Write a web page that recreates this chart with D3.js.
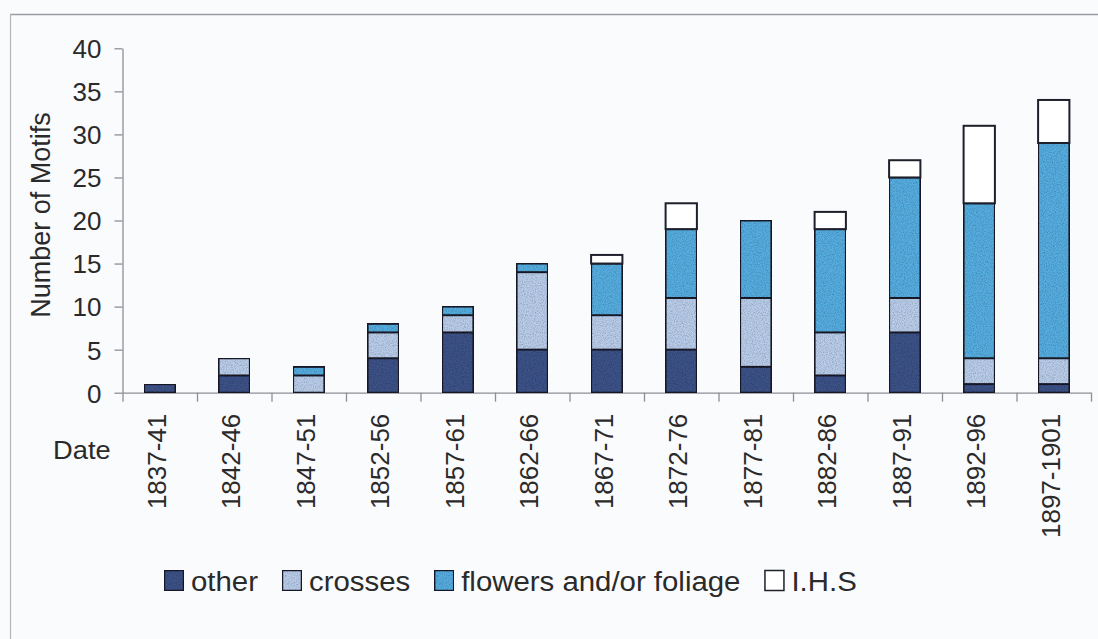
<!DOCTYPE html>
<html>
<head>
<meta charset="utf-8">
<script src="https://cdn.jsdelivr.net/npm/d3@7"></script>
<style>
  html, body { margin: 0; padding: 0; background: #fafbfd; }
  svg { display: block; font-family: "Liberation Sans", Arial, Helvetica, sans-serif; }
</style>
</head>
<body>
<svg id="chart" width="1098" height="639"></svg>
<script>
// Motif counts per five-year period
const categories = ["1837-41", "1842-46", "1847-51", "1852-56", "1857-61", "1862-66", "1867-71",
                    "1872-76", "1877-81", "1882-86", "1887-91", "1892-96", "1897-1901"];
const other    = [1, 2, 0, 4, 7, 5, 5, 5, 3, 2, 7, 1, 1];
const crosses  = [0, 2, 2, 3, 2, 9, 4, 6, 8, 5, 4, 3, 3];
const flowers  = [0, 0, 1, 1, 1, 1, 6, 8, 9, 12, 14, 18, 25];
const ihs      = [0, 0, 0, 0, 0, 0, 1, 3, 0, 2, 2, 9, 5];

const seriesNames = ["other", "crosses", "flowers and/or foliage", "I.H.S"];
const seriesColors = ["#3d5288", "#b9cdea", "#57ade0", "#ffffff"];
const yTicks = [0, 5, 10, 15, 20, 25, 30, 35, 40];

const svg = d3.select("#chart");
const W = 1098, H = 639;

// page frame
svg.append("line").attr("x1", 10).attr("x2", W).attr("y1", 14.5).attr("y2", 14.5)
  .attr("stroke", "#9a9ca2").attr("stroke-width", 1.5);
svg.append("line").attr("x1", 10.5).attr("x2", 10.5).attr("y1", 14).attr("y2", H)
  .attr("stroke", "#b4b6bb").attr("stroke-width", 1.2);

// grain texture used on the bar fills
const defs = svg.append("defs");
const grain = defs.append("filter").attr("id", "grain").attr("x", 0).attr("y", 0)
  .attr("width", 1).attr("height", 1);
grain.append("feTurbulence").attr("type", "fractalNoise").attr("baseFrequency", 0.9)
  .attr("numOctaves", 2).attr("seed", 3).attr("result", "noise");
grain.append("feColorMatrix").attr("in", "noise").attr("type", "matrix")
  .attr("values", "0 0 0 0 0  0 0 0 0 0  0 0 0 0 0  0 0 0 -0.9 0.55").attr("result", "dots");
grain.append("feComposite").attr("in", "dots").attr("in2", "SourceGraphic").attr("operator", "in").attr("result", "d2");
grain.append("feMerge").call(m => { m.append("feMergeNode").attr("in", "SourceGraphic"); m.append("feMergeNode").attr("in", "d2"); });

const x0 = 122.5, x1 = 1091, yBottom = 392.7, yTop = 48.3;

const x = d3.scaleBand().domain(categories).range([x0, x1]).paddingInner(0.58).paddingOuter(0.29);
const y = d3.scaleLinear().domain([0, 40]).range([yBottom, yTop]);

// stacked layout
const table = categories.map((c, i) => ({ cat: c, other: other[i], crosses: crosses[i], flowers: flowers[i], ihs: ihs[i] }));
const keys = ["other", "crosses", "flowers", "ihs"];
const stacked = d3.stack().keys(keys)(table);

// y axis
const yAxis = svg.append("g").attr("transform", `translate(${x0},0)`)
  .call(d3.axisLeft(y).tickValues(yTicks).tickSize(8).tickSizeOuter(0).tickPadding(13));
yAxis.select(".domain").attr("stroke", "#8d8f95").attr("stroke-width", 1.3);
yAxis.selectAll(".tick line").attr("stroke", "#8d8f95").attr("stroke-width", 1.3);
yAxis.selectAll(".tick text").attr("font-size", 26).attr("fill", "#2a2a2a")
  .attr("font-family", "Liberation Sans, Arial, sans-serif").attr("dy", "0.36em");

// x axis with ticks at category boundaries
const bound = d3.scaleLinear().domain([0, categories.length]).range([x0, x1]);
const xAxis = svg.append("g").attr("transform", `translate(0,${yBottom})`)
  .call(d3.axisBottom(bound).tickValues(d3.range(categories.length + 1)).tickSize(9).tickSizeOuter(0).tickFormat(""));
xAxis.select(".domain").attr("stroke", "#8d8f95").attr("stroke-width", 1.3);
xAxis.selectAll(".tick line").attr("stroke", "#8d8f95").attr("stroke-width", 1.3);

// bars
const layer = svg.append("g");
stacked.forEach((s, k) => {
  layer.append("g").selectAll("rect")
    .data(s.filter(d => d[1] - d[0] > 0))
    .join("rect")
    .attr("x", d => x(d.data.cat))
    .attr("width", x.bandwidth())
    .attr("y", d => y(d[1]))
    .attr("height", d => y(d[0]) - y(d[1]))
    .attr("fill", seriesColors[k])
    .attr("filter", k < 3 ? "url(#grain)" : null)
    .attr("stroke", "#1d1f2b")
    .attr("stroke-width", 2);
});

// category labels
svg.append("g").selectAll("text")
  .data(categories)
  .join("text")
  .attr("transform", d => `translate(${x(d) + x.bandwidth() / 2 - 3},${yBottom + 21}) rotate(-90)`)
  .attr("text-anchor", "end")
  .attr("dy", "0.35em")
  .attr("font-size", 26)
  .attr("fill", "#2a2a2a")
  .text(d => d);

// axis titles
svg.append("text")
  .attr("transform", `translate(50,215) rotate(-90)`)
  .attr("text-anchor", "middle")
  .attr("font-size", 27)
  .attr("fill", "#2a2a2a")
  .text("Number of Motifs");

svg.append("text")
  .attr("transform", "translate(53,459) scale(1.05,1)")
  .attr("font-size", 26)
  .attr("fill", "#2a2a2a")
  .text("Date");

// legend: swatch, label, then the next item
const legend = svg.append("g").attr("transform", "translate(164,570)");
const stretch = 1.05;
let lx = 0;
seriesNames.forEach((name, k) => {
  const g = legend.append("g").attr("transform", `translate(${lx},0)`);
  g.append("rect").attr("x", 0.5).attr("y", 0.5).attr("width", 19).attr("height", 20)
    .attr("fill", seriesColors[k]).attr("stroke", "#1d1f2b").attr("stroke-width", 1.5)
    .attr("filter", k < 3 ? "url(#grain)" : null);
  const t = g.append("text").attr("transform", `translate(27,21) scale(${stretch},1)`)
    .attr("font-size", 28).attr("fill", "#2a2a2a").text(name);
  lx += 27 + t.node().getComputedTextLength() * stretch + 24;
});
</script>
</body>
</html>
